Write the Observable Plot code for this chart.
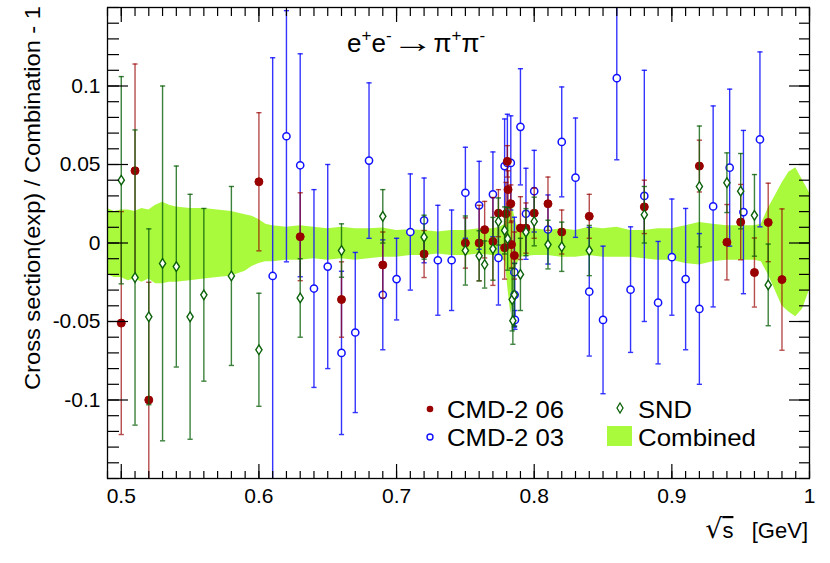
<!DOCTYPE html>
<html><head><meta charset="utf-8">
<script src="https://cdn.jsdelivr.net/npm/d3@7"></script>
<script src="https://cdn.jsdelivr.net/npm/@observablehq/plot@0.6"></script>
<style>
body{margin:0;background:#fff}
#chart{position:relative;width:830px;height:563px}
</style>
</head><body><div id="chart"></div>
<script>
// CMD-2 06 (red filled circles)
const cmd06X   = [0.50, 0.51, 0.52, 0.60, 0.63, 0.66, 0.69, 0.72, 0.75, 0.76, 0.764, 0.77, 0.774, 0.7785, 0.7795, 0.7805, 0.781, 0.783, 0.7835, 0.7856, 0.79, 0.794, 0.80, 0.81, 0.82, 0.84, 0.88, 0.92, 0.94, 0.95, 0.96, 0.97, 0.98];
const cmd06Y   = [-0.051, 0.046, -0.100, 0.039, 0.004, -0.036, -0.014, -0.007, 0.000, 0.000, 0.0085, 0.001, 0.019, -0.003, 0.0186, 0.052, 0.034, 0.025, -0.001, -0.008, 0.0095, 0.0095, 0.019, 0.025, 0.007, 0.017, 0.023, 0.049, 0.0005, 0.0133, -0.0188, 0.0131, -0.0233];
const cmd06Err = [0.071, 0.068, 0.075, 0.044, 0.028, 0.024, 0.021, 0.015, 0.016, 0.024, 0.018, 0.028, 0.015, 0.020, 0.020, 0.010, 0.012, 0.012, 0.015, 0.015, 0.020, 0.016, 0.016, 0.017, 0.014, 0.014, 0.017, 0.0165, 0.024, 0.024, 0.022, 0.025, 0.045];

// CMD-2 03 (blue open circles)
const cmd03X   = [0.61, 0.62, 0.63, 0.64, 0.65, 0.66, 0.67, 0.68, 0.69, 0.70, 0.71, 0.72, 0.73, 0.74, 0.75, 0.76, 0.77, 0.774, 0.7785, 0.7805, 0.783, 0.7856, 0.7858, 0.786, 0.79, 0.794, 0.80, 0.81, 0.82, 0.83, 0.84, 0.85, 0.86, 0.87, 0.88, 0.89, 0.90, 0.91, 0.92, 0.93, 0.942, 0.952, 0.964];
const cmd03Y   = [-0.021, 0.068, 0.0495, -0.029, -0.015, -0.070, -0.057, 0.0525, -0.033, -0.023, 0.007, 0.0144, -0.011, -0.011, 0.032, 0.024, 0.031, -0.0095, 0.049, 0.051, 0.051, -0.0186, -0.033, -0.049, 0.074, 0.0186, 0.033, 0.0086, 0.0644, 0.0416, -0.031, -0.049, 0.105, -0.0297, 0.030, -0.038, -0.009, -0.023, -0.042, 0.0233, 0.048, 0.0197, 0.066];
const cmd03Err = [0.139, 0.080, 0.071, 0.063, 0.065, 0.052, 0.051, 0.0495, 0.035, 0.026, 0.037, 0.027, 0.035, 0.032, 0.029, 0.028, 0.027, 0.030, 0.030, 0.031, 0.030, 0.035, 0.020, 0.006, 0.037, 0.029, 0.026, 0.022, 0.035, 0.038, 0.041, 0.047, 0.052, 0.040, 0.080, 0.039, 0.037, 0.045, 0.048, 0.064, 0.050, 0.052, 0.0557];

// SND (green open diamonds)
const sndX   = [0.50, 0.51, 0.52, 0.53, 0.54, 0.55, 0.56, 0.58, 0.60, 0.63, 0.66, 0.69, 0.72, 0.75, 0.76, 0.764, 0.77, 0.774, 0.7785, 0.7807, 0.784, 0.7845, 0.7856, 0.79, 0.794, 0.80, 0.81, 0.82, 0.84, 0.88, 0.92, 0.94, 0.95, 0.96, 0.97];
const sndY   = [0.040, -0.022, -0.047, -0.013, -0.015, -0.047, -0.033, -0.021, -0.068, -0.035, -0.0048, 0.017, 0.0037, -0.0048, -0.0082, -0.0137, -0.0037, 0.0137, 0.008, 0.0027, -0.036, -0.0495, -0.033, -0.020, 0.0069, 0.0137, -0.001, -0.0024, -0.0048, 0.018, 0.036, 0.0384, 0.033, 0.0176, -0.0267];
const sndErr = [0.066, 0.094, 0.056, 0.113, 0.064, 0.078, 0.055, 0.057, 0.036, 0.025, 0.017, 0.017, 0.014, 0.022, 0.016, 0.015, 0.020, 0.015, 0.015, 0.020, 0.020, 0.015, 0.020, 0.023, 0.015, 0.0155, 0.0155, 0.0157, 0.016, 0.018, 0.0385, 0.019, 0.024, 0.026, 0.026];

// Combined band (lower / upper edge)
const bandX  = [0.49, 0.495, 0.50, 0.505, 0.51, 0.515, 0.52, 0.525, 0.53, 0.535, 0.54, 0.55, 0.56, 0.57, 0.58, 0.59, 0.595, 0.60, 0.605, 0.61, 0.62, 0.63, 0.64, 0.65, 0.66, 0.67, 0.68, 0.69, 0.70, 0.71, 0.72, 0.73, 0.74, 0.75, 0.76, 0.77, 0.775, 0.779, 0.781, 0.783, 0.785, 0.787, 0.79, 0.80, 0.81, 0.82, 0.83, 0.84, 0.85, 0.86, 0.87, 0.88, 0.89, 0.90, 0.91, 0.92, 0.93, 0.94, 0.95, 0.96, 0.965, 0.97, 0.975, 0.98, 0.985, 0.99, 0.995, 1.0];
const bandHi = [0.022, 0.020, 0.021, 0.021, 0.020, 0.022, 0.021, 0.024, 0.026, 0.024, 0.023, 0.022, 0.022, 0.021, 0.020, 0.018, 0.017, 0.015, 0.012, 0.011, 0.010, 0.011, 0.010, 0.009, 0.010, 0.009, 0.009, 0.0095, 0.008, 0.0085, 0.008, 0.007, 0.008, 0.008, 0.009, 0.009, 0.010, 0.012, 0.025, 0.028, 0.020, 0.012, 0.009, 0.009, 0.008, 0.009, 0.008, 0.010, 0.009, 0.010, 0.008, 0.008, 0.009, 0.009, 0.011, 0.013, 0.012, 0.011, 0.011, 0.011, 0.012, 0.022, 0.030, 0.038, 0.045, 0.048, 0.040, 0.032];
const bandLo = [-0.020, -0.022, -0.022, -0.024, -0.023, -0.025, -0.023, -0.026, -0.026, -0.025, -0.025, -0.024, -0.023, -0.022, -0.021, -0.018, -0.015, -0.013, -0.012, -0.012, -0.011, -0.011, -0.010, -0.011, -0.010, -0.011, -0.010, -0.009, -0.009, -0.008, -0.008, -0.007, -0.008, -0.008, -0.007, -0.008, -0.009, -0.012, -0.030, -0.045, -0.035, -0.015, -0.009, -0.008, -0.008, -0.009, -0.009, -0.008, -0.009, -0.009, -0.009, -0.010, -0.011, -0.011, -0.013, -0.014, -0.012, -0.011, -0.011, -0.011, -0.012, -0.020, -0.030, -0.040, -0.044, -0.047, -0.042, -0.030];

// Axis ticks
const xMajorTicks = [0.5, 0.6, 0.7, 0.8, 0.9, 1.0];
const yMajorTicks = [-0.1, -0.05, 0, 0.05, 0.1];
const xMinorTicks = d3.range(49, 101).map(i => i / 100);
const yMinorTicks = d3.range(-15, 16).map(i => i / 100);

const RED = "#990000", BLUE = "#1010ff", GREEN = "#0b620b", LIME = "#a9f93c";

const rows = (X, Y, E) => X.map((x, i) => ({x, y: Y[i], e: E[i]}));
const r06 = rows(cmd06X, cmd06Y, cmd06Err);
const r03 = rows(cmd03X, cmd03Y, cmd03Err);
const rSnd = rows(sndX, sndY, sndErr);
const band = bandX.map((x, i) => ({x, lo: bandLo[i], hi: bandHi[i]}));

const capSymbol = {draw(ctx) { ctx.moveTo(-2.6, 0); ctx.lineTo(2.6, 0); }};
const diamondSymbol = {draw(ctx) { ctx.moveTo(0, -4.8); ctx.lineTo(3.1, 0); ctx.lineTo(0, 4.8); ctx.lineTo(-3.1, 0); ctx.closePath(); }};

function seriesMarks(data, color, barOpacity, symbol, r, fill, sw) {
  return [
    Plot.ruleX(data, {x: "x", y1: d => d.y - d.e, y2: d => d.y + d.e, stroke: color, strokeOpacity: barOpacity, strokeWidth: 1.4, clip: true}),
    Plot.dot(data, {x: "x", y: d => d.y - d.e, symbol: capSymbol, r: 3, stroke: color, strokeOpacity: barOpacity, fill: "none", strokeWidth: 1.4, clip: true}),
    Plot.dot(data, {x: "x", y: d => d.y + d.e, symbol: capSymbol, r: 3, stroke: color, strokeOpacity: barOpacity, fill: "none", strokeWidth: 1.4, clip: true}),
    Plot.dot(data, {x: "x", y: "y", symbol, r, fill, stroke: color, strokeWidth: sw, clip: true})
  ];
}

const fmtY = d => d === 0 ? "0" : String(d);

const chart = Plot.plot({
  width: 830, height: 563,
  marginLeft: 107, marginRight: 21, marginTop: 7, marginBottom: 85,
  style: {fontFamily: "'Liberation Sans', Arial, sans-serif", fontSize: "21px", background: "#fff", overflow: "visible"},
  x: {domain: [0.49, 1.0]},
  y: {domain: [-0.15, 0.15]},
  marks: [
    Plot.areaY(band, {x: "x", y1: "lo", y2: "hi", fill: LIME, curve: "linear", clip: true}),
    ...seriesMarks(r03, BLUE, 0.85, "circle", 3.6, "#fff", 1.5),
    ...seriesMarks(r06, RED, 0.7, "circle", 4, RED, 1),
    ...seriesMarks(rSnd, GREEN, 0.8, diamondSymbol, 4, "#fff", 1.4),
    // ticks (inside)
    Plot.axisX(xMinorTicks, {anchor: "bottom", tickSize: -7, tickFormat: () => "", label: null, strokeWidth: 1.2}),
    Plot.axisX(xMajorTicks, {anchor: "bottom", tickSize: -14, tickFormat: () => "", label: null, strokeWidth: 1.2}),
    Plot.axisX(xMinorTicks, {anchor: "top", tickSize: -8, tickFormat: () => "", label: null, strokeWidth: 1.2}),
    Plot.axisX(xMajorTicks, {anchor: "top", tickSize: -14, tickFormat: () => "", label: null, strokeWidth: 1.2}),
    Plot.axisY(yMinorTicks, {anchor: "left", tickSize: -12, tickFormat: () => "", label: null, strokeWidth: 1.2}),
    Plot.axisY(yMajorTicks, {anchor: "left", tickSize: -21, tickFormat: () => "", label: null, strokeWidth: 1.2}),
    Plot.axisY(yMinorTicks, {anchor: "right", tickSize: -11, tickFormat: () => "", label: null, strokeWidth: 1.2}),
    Plot.axisY(yMajorTicks, {anchor: "right", tickSize: -21, tickFormat: () => "", label: null, strokeWidth: 1.2}),
    // tick labels
    Plot.axisX(xMajorTicks, {anchor: "bottom", tickSize: 0, tickPadding: 10, tickFormat: d => String(d), label: null, fontSize: 21}),
    Plot.axisY(yMajorTicks, {anchor: "left", tickSize: 0, tickPadding: 7, tickFormat: fmtY, label: null, fontSize: 21}),
    Plot.frame({stroke: "#000", strokeWidth: 1.3})
  ]
});

document.getElementById("chart").appendChild(chart);

// Decorations: title, axis titles, legend
const svg = d3.select(chart);
const font = "'Liberation Sans', Arial, sans-serif";

// Title e+e- -> pi+pi-
const t = svg.append("text").attr("x", 347).attr("y", 52).attr("text-anchor", "start")
  .attr("font-family", font).attr("font-size", 26).attr("fill", "#000");
t.append("tspan").text("e");
t.append("tspan").attr("dy", -11).attr("font-size", 17).text("+");
t.append("tspan").attr("dy", 11).text("e");
t.append("tspan").attr("dy", -11).attr("font-size", 17).text("-");
t.append("tspan").attr("dy", 11).attr("font-size", 28).text("\u2192").attr("textLength", 42).attr("lengthAdjust", "spacingAndGlyphs");
t.append("tspan").text("π");
t.append("tspan").attr("dy", -11).attr("font-size", 17).text("+");
t.append("tspan").attr("dy", 11).text("π");
t.append("tspan").attr("dy", -11).attr("font-size", 17).text("-");

// Y axis title
svg.append("text")
  .attr("transform", "translate(40,198) rotate(-90)")
  .attr("text-anchor", "middle")
  .attr("font-family", font).attr("font-size", 22.5).attr("fill", "#000")
  .attr("textLength", 384).attr("lengthAdjust", "spacingAndGlyphs")
  .text("Cross section(exp) / Combination - 1");

// X axis title
const xt = svg.append("text").attr("x", 808).attr("y", 538).attr("text-anchor", "end")
  .attr("font-family", font).attr("font-size", 22).attr("fill", "#000");
xt.append("tspan").attr("font-size", 27).attr("font-family", "'DejaVu Sans', sans-serif").text("√");
xt.append("tspan").attr("style", "text-decoration: overline").text("s");
xt.append("tspan").text("\u00a0\u00a0\u00a0[GeV]");

// Legend
const lg = svg.append("g").attr("font-family", font).attr("font-size", 24).attr("fill", "#000").attr("text-anchor", "start");
lg.append("circle").attr("cx", 430).attr("cy", 409).attr("r", 3.3).attr("fill", RED);
lg.append("text").attr("x", 447).attr("y", 417.5).attr("textLength", 117).attr("lengthAdjust", "spacingAndGlyphs").text("CMD-2 06");
lg.append("circle").attr("cx", 430).attr("cy", 437).attr("r", 3).attr("fill", "#fff").attr("stroke", BLUE).attr("stroke-width", 1.4);
lg.append("text").attr("x", 447).attr("y", 445.5).attr("textLength", 117).attr("lengthAdjust", "spacingAndGlyphs").text("CMD-2 03");
lg.append("path").attr("d", "M620,403 L623,408 L620,413 L617,408 Z").attr("fill", "#fff").attr("stroke", GREEN).attr("stroke-width", 1.3);
lg.append("text").attr("x", 638).attr("y", 417.5).attr("textLength", 54).attr("lengthAdjust", "spacingAndGlyphs").text("SND");
lg.append("rect").attr("x", 607).attr("y", 426).attr("width", 25).attr("height", 20).attr("fill", LIME);
lg.append("text").attr("x", 638).attr("y", 445.5).attr("textLength", 118).attr("lengthAdjust", "spacingAndGlyphs").text("Combined");
</script>
</body></html>
